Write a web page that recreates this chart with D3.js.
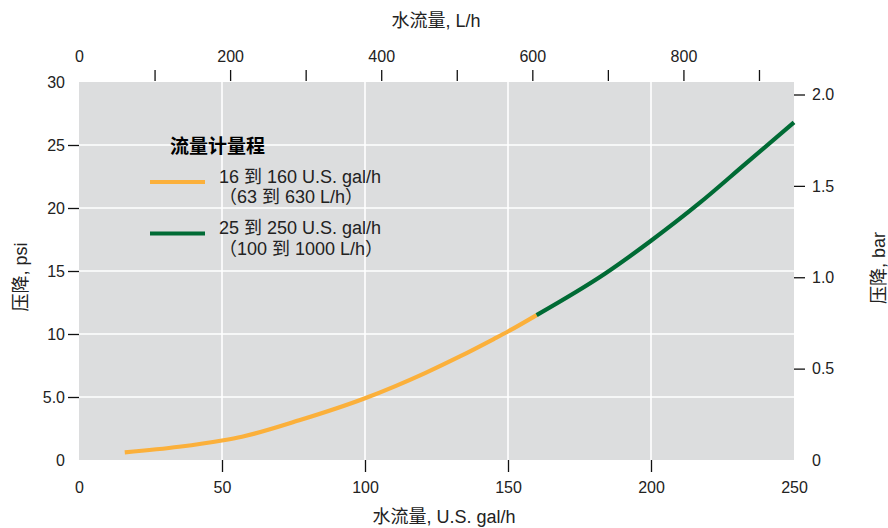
<!DOCTYPE html>
<html>
<head>
<meta charset="utf-8">
<script src="https://cdn.jsdelivr.net/npm/d3@7"></script>
<style>
  html, body { margin: 0; padding: 0; background: #fff; }
  svg text { font-family: "Liberation Sans", "Noto Sans CJK SC", sans-serif; fill: #222; }
</style>
</head>
<body>
<svg id="chart" width="888" height="528"></svg>
<script>
// Pressure drop vs. water flow for two flowmeter ranges
const smallRange = [ // [U.S. gal/h, psi]
  [16, 0.6], [35, 1.05], [50, 1.55], [57, 1.85], [77, 3.15], [100, 4.9],
  [121, 6.9], [133, 8.2], [145, 9.6], [150, 10.2], [160, 11.5]
];
const largeRange = [
  [160, 11.5], [184, 14.8], [200, 17.4], [217, 20.4], [233, 23.5], [250, 26.8]
];
const bottomTicks = [0, 50, 100, 150, 200, 250];
const leftTicks = [0, 5, 10, 15, 20, 25, 30];
const rightTicks = [0, 0.5, 1.0, 1.5, 2.0];
const topTicks = [0, 100, 200, 300, 400, 500, 600, 700, 800, 900];
const legendItems = [
  { lines: ["16 到 160 U.S. gal/h", "（63 到 630 L/h）"], color: "#FBB03B" },
  { lines: ["25 到 250 U.S. gal/h", "（100 到 1000 L/h）"], color: "#006B35" }
];
const LITERS_PER_GAL = 3.78541;
const PSI_PER_BAR = 14.5038;

const svg = d3.select("#chart");
const m = { left: 79, right: 794, top: 82, bottom: 460 };

const x = d3.scaleLinear().domain([0, 250]).range([m.left, m.right]);
const y = d3.scaleLinear().domain([0, 30]).range([m.bottom, m.top]);
const xL = d3.scaleLinear().domain([0, 250 * LITERS_PER_GAL]).range([m.left, m.right]);
const yBar = d3.scaleLinear().domain([0, 30 / PSI_PER_BAR]).range([m.bottom, m.top]);

// plot background
svg.append("rect")
  .attr("x", m.left).attr("y", m.top)
  .attr("width", m.right - m.left).attr("height", m.bottom - m.top)
  .attr("fill", "#DCDDDE");

// grid
const grid = svg.append("g").attr("stroke", "#fff").attr("stroke-width", 1.6);
grid.selectAll("line.h").data([5, 10, 15, 20, 25]).join("line")
  .attr("x1", m.left).attr("x2", m.right)
  .attr("y1", d => y(d)).attr("y2", d => y(d));
grid.selectAll("line.v").data([50, 100, 150, 200]).join("line")
  .attr("y1", m.top).attr("y2", m.bottom)
  .attr("x1", d => x(d)).attr("x2", d => x(d));

function styleAxis(g, hideAt) {
  g.select(".domain").remove();
  g.selectAll(".tick line").attr("stroke", "#111").attr("stroke-width", 1.3);
  g.selectAll(".tick text").attr("font-size", 16).attr("fill", "#222");
  g.selectAll(".tick").filter(d => hideAt.includes(d)).select("line").remove();
}

// bottom axis (gal/h)
svg.append("g").attr("transform", `translate(0,${m.bottom})`)
  .call(d3.axisBottom(x).tickValues(bottomTicks).tickSize(12).tickPadding(10).tickFormat(d3.format("d")))
  .call(g => styleAxis(g, [0, 250]));

// left axis (psi)
svg.append("g").attr("transform", `translate(${m.left},0)`)
  .call(d3.axisLeft(y).tickValues(leftTicks).tickSize(11).tickPadding(3)
    .tickFormat(d => d === 5 ? "5.0" : String(d)))
  .call(g => styleAxis(g, [0, 30]));

// right axis (bar)
svg.append("g").attr("transform", `translate(${m.right},0)`)
  .call(d3.axisRight(yBar).tickValues(rightTicks).tickSize(11).tickPadding(7)
    .tickFormat(d => d === 0 ? "0" : d3.format(".1f")(d)))
  .call(g => styleAxis(g, [0]));

// top axis (L/h)
svg.append("g").attr("transform", `translate(0,${m.top - 1})`)
  .call(d3.axisTop(xL).tickValues(topTicks).tickSize(11).tickPadding(8)
    .tickFormat(d => d % 200 === 0 ? String(d) : ""))
  .call(g => styleAxis(g, [0]));

// axis titles
svg.append("text").attr("x", 436).attr("y", 27).attr("text-anchor", "middle")
  .attr("font-size", 18).text("水流量, L/h");
svg.append("text").attr("x", 444).attr("y", 523).attr("text-anchor", "middle")
  .attr("font-size", 18).text("水流量, U.S. gal/h");
svg.append("text").attr("transform", "translate(27,277) rotate(-90)")
  .attr("text-anchor", "middle").attr("font-size", 18).text("压降, psi");
svg.append("text").attr("transform", "translate(885,268) rotate(-90)")
  .attr("text-anchor", "middle").attr("font-size", 18).text("压降, bar");

// curves
const line = d3.line().x(d => x(d[0])).y(d => y(d[1])).curve(d3.curveMonotoneX);
[[smallRange, legendItems[0].color], [largeRange, legendItems[1].color]].forEach(([data, color]) => {
  svg.append("path").datum(data)
    .attr("d", line).attr("fill", "none")
    .attr("stroke", color).attr("stroke-width", 4.2)
    .attr("stroke-linejoin", "round");
});

// legend
const legend = svg.append("g");
legend.append("text").attr("x", 170).attr("y", 153)
  .attr("font-size", 19).attr("font-weight", "bold")
  .style("fill", "#000").text("流量计量程");
legendItems.forEach((item, i) => {
  const ly = 182 + i * 51.5;
  legend.append("line")
    .attr("x1", 150).attr("x2", 205).attr("y1", ly).attr("y2", ly)
    .attr("stroke", item.color).attr("stroke-width", 4.2);
  item.lines.forEach((t, j) => {
    legend.append("text").attr("x", 219).attr("y", ly + 0.5 + j * 20.5)
      .attr("font-size", 18).text(t);
  });
});
</script>
</body>
</html>
